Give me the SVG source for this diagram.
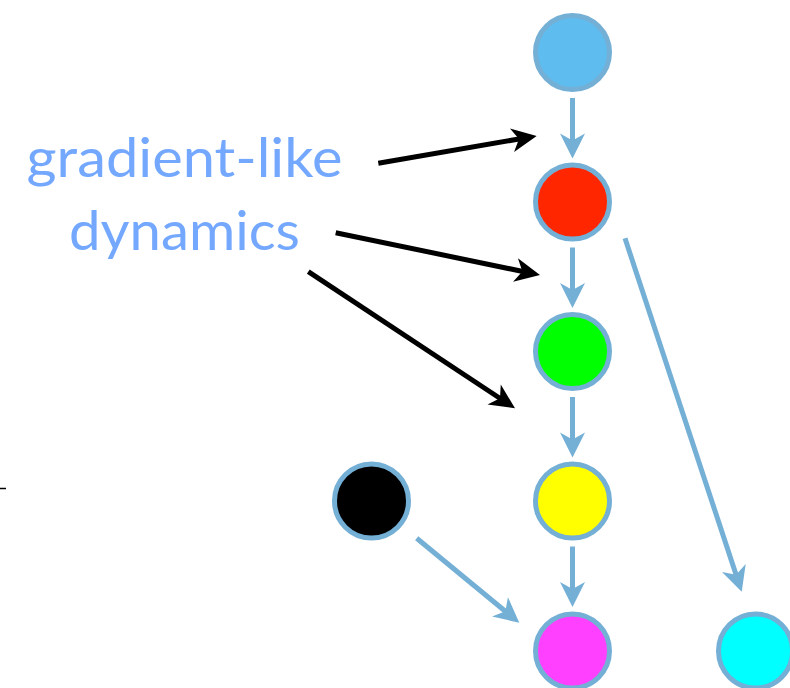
<svg xmlns="http://www.w3.org/2000/svg" width="790" height="688" viewBox="0 0 790 688">
  <defs>
    <style>
      .node { stroke: #74AFD6; stroke-width: 5; }
      .flow { fill: none; stroke: #74AFD6; stroke-width: 5; marker-end: url(#head-blue); }
      .hint { fill: none; stroke: #000000; stroke-width: 5; marker-end: url(#head-black); }
      .label { font-family: "Gill Sans", Lato, "Open Sans", sans-serif; font-size: 54px; fill: #74A8FF; text-anchor: middle; }
    </style>
    <marker id="head-blue" markerUnits="userSpaceOnUse" viewBox="-12 -14 28 28" markerWidth="28" markerHeight="28" refX="0" refY="0" orient="auto" overflow="visible">
      <path d="M15,0 L-10,-12.5 L-3,0 L-10,12.5 Z" fill="#74AFD6"/>
    </marker>
    <marker id="head-black" markerUnits="userSpaceOnUse" viewBox="-12 -14 28 28" markerWidth="28" markerHeight="28" refX="0" refY="0" orient="auto" overflow="visible">
      <path d="M15,0 L-10,-12 L-3,0 L-10,12 Z" fill="#000000"/>
    </marker>
  </defs>

  <!-- label -->
  <g id="label">
    <text class="label" x="184.5" y="176.5" textLength="316" lengthAdjust="spacingAndGlyphs">gradient-like</text>
    <text class="label" x="184.5" y="250" textLength="231" lengthAdjust="spacingAndGlyphs">dynamics</text>
  </g>

  <!-- connectors -->
  <g id="connectors">
    <path class="flow" d="M572.5,98 L572.5,143.5"/>
    <path class="flow" d="M572.5,247.5 L572.5,293"/>
    <path class="flow" d="M572.5,397 L572.5,442.5"/>
    <path class="flow" d="M572.5,546.5 L572.5,592"/>
    <path class="flow" d="M416.7,538.3 L507.7,613.2"/>
    <path class="flow" d="M625,238.3 L737,577.5"/>
    <path class="hint" d="M378.3,163.3 L521.9,138.5"/>
    <path class="hint" d="M335.7,232.7 L525.3,272"/>
    <path class="hint" d="M308.3,271.7 L502.5,400"/>
    <path d="M0,488.5 L6,488.5" stroke="#000000" stroke-width="1.5"/>
  </g>

  <!-- nodes -->
  <g id="n-blue"><circle class="node" cx="572.5" cy="52.5" r="37" fill="#5FBCEF"/></g>
  <g id="n-red"><circle class="node" cx="572.5" cy="202" r="37" fill="#FF2600"/></g>
  <g id="n-green"><circle class="node" cx="572.5" cy="351.5" r="37" fill="#00FF00"/></g>
  <g id="n-yellow"><circle class="node" cx="572.5" cy="501" r="37" fill="#FFFF00"/></g>
  <g id="n-magenta"><circle class="node" cx="572.5" cy="651" r="37" fill="#FF40FF"/></g>
  <g id="n-black"><circle class="node" cx="371.5" cy="501" r="37" fill="#000000"/></g>
  <g id="n-cyan"><circle class="node" cx="755.5" cy="651" r="37" fill="#00FFFF"/></g>
</svg>
